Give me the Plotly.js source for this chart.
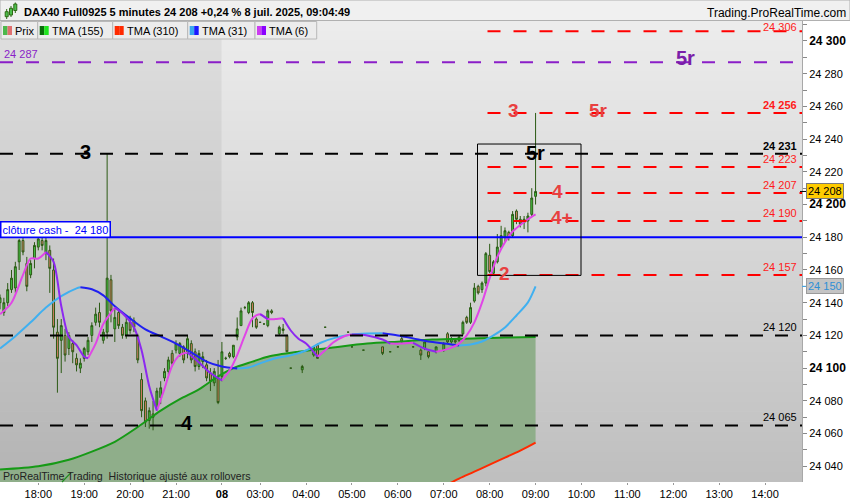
<!DOCTYPE html>
<html><head><meta charset="utf-8">
<script src="https://cdn.plot.ly/plotly-3.0.1.min.js"></script>
<style>html,body{margin:0;padding:0;background:#fff;}#chart{width:850px;height:500px;}</style>
</head><body><div id="chart"></div>
<script>
// ---------------- DATA ----------------
const barIdx = [-10,-9,-8,-7,-6,-5,-4,-3,-2,-1,0,1,2,3,4,5,6,7,8,9,10,11,12,13,14,15,16,17,18,19,20,21,22,23,24,25,26,27,28,29,30,31,32,33,34,35,36,37,38,39,40,41,42,43,44,45,46,47,48,49,50,51,52,53,54,55,56,57,58,59,60,61,63,64,65,66,69,72,73,75,81,82,85,90,92,94,95,98,100,101,102,104,106,107,108,109,110,111,112,113,114,115,116,117,118,119,120,121,122,123,124,125,126,127,128,129,130];
const openP = [24140,24134,24140,24148,24149,24165,24178,24164,24157,24167,24174,24178,24170,24172,24160,24122,24117,24120,24112,24115,24106,24100,24106,24110,24120,24128,24134,24117,24122,24154,24124,24134,24125,24120,24128,24129,24120,24093,24080,24068,24072,24076,24082,24094,24098,24109,24111,24109,24113,24109,24115,24110,24101,24104,24102,24097,24091,24094,24095,24106,24109,24107,24119,24126,24137,24134,24140,24130,24128,24127,24126,24135,24121,24123,24120,24100,24099,24108,24114,24125,24122,24113,24111,24113,24110,24113,24118,24113,24111,24112,24110,24110,24111,24121,24116,24117,24117,24121,24131,24128,24141,24150,24148,24152,24169,24158,24165,24174,24180,24183,24181,24196,24191,24189,24190,24194,24205];
const highP = [24145,24143,24152,24160,24165,24179,24180,24168,24166,24177,24180,24180,24180,24175,24167,24130,24130,24124,24122,24117,24109,24106,24113,24119,24128,24137,24140,24124,24231,24157,24137,24136,24127,24131,24132,24131,24121,24097,24082,24076,24080,24088,24092,24100,24107,24111,24117,24116,24114,24120,24117,24112,24111,24110,24105,24100,24100,24105,24116,24107,24110,24114,24131,24137,24138,24141,24141,24131,24128,24127,24136,24136,24126,24127,24120,24100,24102,24113,24115,24125,24122,24113,24111,24113,24110,24113,24119,24113,24112,24116,24110,24113,24116,24122,24119,24118,24120,24129,24132,24140,24152,24151,24153,24171,24176,24166,24182,24187,24186,24184,24196,24197,24193,24193,24195,24210,24256];
const lowP = [24136,24132,24138,24146,24146,24160,24169,24147,24155,24161,24172,24172,24166,24146,24118,24085,24097,24104,24108,24103,24098,24097,24104,24108,24116,24126,24125,24115,24118,24128,24116,24124,24118,24118,24121,24122,24103,24070,24064,24063,24062,24074,24078,24092,24096,24101,24109,24107,24103,24106,24103,24098,24099,24100,24092,24086,24089,24078,24092,24105,24106,24106,24117,24126,24136,24133,24125,24124,24128,24127,24125,24133,24120,24121,24110,24100,24097,24107,24106,24125,24122,24113,24111,24108,24110,24113,24115,24113,24105,24111,24106,24109,24110,24115,24115,24115,24116,24120,24127,24127,24140,24145,24146,24150,24158,24157,24164,24173,24177,24178,24180,24188,24186,24185,24183,24193,24200];
const closeP = [24143,24140,24148,24155,24162,24178,24171,24150,24164,24175,24179,24175,24178,24161,24125,24106,24126,24108,24120,24110,24102,24103,24112,24117,24126,24133,24128,24122,24155,24135,24131,24126,24120,24128,24123,24125,24105,24074,24067,24074,24070,24086,24088,24098,24105,24103,24115,24115,24105,24118,24105,24101,24109,24107,24094,24092,24098,24079,24110,24106,24107,24114,24124,24135,24137,24140,24134,24125,24128,24127,24135,24134,24125,24124,24110,24100,24101,24113,24106,24125,24122,24113,24111,24109,24110,24113,24116,24113,24108,24116,24107,24113,24115,24116,24118,24116,24119,24128,24128,24137,24149,24146,24152,24170,24159,24165,24174,24181,24184,24180,24194,24191,24188,24191,24193,24204,24208];

const tma6X = [-10,-7,-4,-2,0,2,4,6,8,10,12,13,15,17,20,22,25,27,29,31,33,35,37,39,42,45,48,50,52,54,56,58,60,62,64,66,68,70,73,75,77,80,82,86,90,92,95,98,101,104,106,108,110,112,114,116,118,120,122,124,126,128,130];
const tma6Y = [24133,24140,24157,24167,24167,24171,24165,24138,24119,24114,24107,24106,24115,24127,24137,24133.5,24125,24111,24089,24074,24087.5,24101.5,24108,24109.5,24103.5,24097,24092.5,24098.5,24108,24120,24130.5,24133,24130,24130,24130.5,24123,24118,24115,24107,24111,24115.5,24119.5,24120.5,24120,24117.5,24115,24115,24115.5,24112,24110,24111,24112.5,24115,24120,24128,24140,24155,24168,24177,24183.5,24187.5,24191,24194];
const tma31X = [-10,-6,-2,2,6,10,11,14,17,20,24,28,32,36,40,44,48,52,55,58,62,66,70,74,78,82,86,90,94,98,102,106,108,110,113,116,119,122,125,128,130];
const tma31Y = [24112,24119.5,24128,24137,24144,24148.8,24149.4,24148.2,24144.5,24137.8,24130.4,24123.7,24119.4,24115,24109.6,24104,24101,24099.8,24100.4,24102.9,24106,24107.8,24110.8,24115.7,24118.8,24120.6,24121.2,24121.3,24120,24118.2,24116.3,24115.1,24114.5,24113.9,24114.5,24116.3,24120,24124.9,24132.2,24140.2,24150];
const tma155X = [-10,0,8,14,20,26,32,37,42,47,51,56,60,68,77,86,95,103,115,122,130];
const tma155Y = [24038,24040,24044,24049,24055,24064,24074,24081,24087,24095,24100,24104,24107,24110,24112.6,24115,24116.3,24117.5,24118.2,24118.7,24119];
const tma310X = [-10,20,50,80,100,107,110,114,118,122,126,130];
const tma310Y = [23985,23990,23998,24010,24022,24029,24032.5,24036.7,24041,24045.3,24049.6,24054.5];

const timeTickIdx = [0,12,24,36,48,58,70,82,94,106,118,130,142,154,166,178,190];
const timeTickText = ['18:00','19:00','20:00','21:00','08','03:00','04:00','05:00','06:00','07:00','08:00','09:00','10:00','11:00','12:00','13:00','14:00'];
const priceTicks = [24040,24060,24080,24100,24120,24140,24160,24180,24200,24220,24240,24260,24280,24300];
const boldTicks = [24100,24200,24300];

const blackLevels = [24231,24120,24065];
const redLevels = [24306,24256,24223,24207,24190,24157];
const boldLevels = [24256,24231];
const purpleLevel = 24287;
const cashClose = 24180;
const lastPrice = 24208;
const tma31Last = 24150;
const seriesNames = ['Prix','TMA (155)','TMA (310)','TMA (31)','TMA (6)'];
const headerText = 'DAX40 Full0925 5 minutes 24 208 +0,24 % 8 juil. 2025, 09:04:49';

// ---------------- LAYOUT HELPERS ----------------
const F = 'Liberation Sans, Arial, sans-serif';
const XR = [-10.01, 199.65];
const YR = [24030.4, 24312.2];
const PW = 802, PH = 461, PT = 21, PB = 482;
const pX = px => px / PW;
const pY = py => (PB - py) / PH;
const dX = px => XR[0] + px / PW * (XR[1] - XR[0]);
const fmt = v => String(v).replace(/\B(?=(\d{3})+(?!\d))/g, ' ');

function splitDir(ys) {
  const up = ys.map(() => null), dn = ys.map(() => null);
  for (let k = 0; k < ys.length - 1; k++) {
    const t = ys[k + 1] >= ys[k] ? up : dn;
    t[k] = ys[k]; t[k + 1] = ys[k + 1];
  }
  return {up, dn};
}

const shapes = [];
const annotations = [];

// background gradient
const NB = 46;
for (let k = 0; k < NB; k++) {
  const g = Math.round(236 - (236 - 190) * (k + 0.5) / NB);
  shapes.push({type:'rect', xref:'paper', yref:'paper', x0:0, x1:1, y0:1 - (k + 1) / NB, y1:1 - k / NB + 0.001,
    fillcolor:`rgb(${g},${g},${g})`, line:{width:0}, layer:'below'});
}
// previous session darker
shapes.push({type:'rect', xref:'x', yref:'paper', x0:XR[0], x1:47.9, y0:0, y1:1, fillcolor:'rgba(0,0,0,0.055)', line:{width:0}, layer:'below'});

// level lines
blackLevels.forEach(v => shapes.push({type:'line', xref:'paper', yref:'y', x0:0, x1:1, y0:v, y1:v, line:{color:'#000', width:2, dash:'13px,12px'}, layer:'above'}));
redLevels.forEach(v => shapes.push({type:'line', xref:'x', yref:'y', x0:dX(487.5), x1:XR[1], y0:v, y1:v, line:{color:'#ff0000', width:2, dash:'13px,13px'}, layer:'above'}));
shapes.push({type:'line', xref:'paper', yref:'y', x0:0, x1:1, y0:purpleLevel, y1:purpleLevel, line:{color:'#8a1ec8', width:2, dash:'13px,13px'}, layer:'above'});
shapes.push({type:'line', xref:'paper', yref:'y', x0:0, x1:1, y0:cashClose, y1:cashClose, line:{color:'#0000ff', width:2}, layer:'above'});
// black box
shapes.push({type:'rect', xref:'x', yref:'y', x0:dX(477.5), x1:dX(581), y0:24156.7, y1:24237, line:{color:'#000', width:1}, fillcolor:'rgba(0,0,0,0)', layer:'above'});

// header bar
shapes.push({type:'rect', xref:'paper', yref:'paper', x0:0, x1:850 / PW, y0:pY(20.5), y1:pY(0), fillcolor:'#f0f0f0', line:{color:'#b0b0b0', width:1}, layer:'above'});
// header icon
[[6.7, 11.7, 16.7, 9, 19], [11, 8.3, 15, 6, 17], [15.3, 4, 10.5, 2.5, 13]].forEach(c => {
  shapes.push({type:'line', xref:'paper', yref:'paper', x0:pX(c[0]), x1:pX(c[0]), y0:pY(c[4]), y1:pY(c[3]), line:{color:'#2e6a14', width:1}, layer:'above'});
  shapes.push({type:'rect', xref:'paper', yref:'paper', x0:pX(c[0] - 1.5), x1:pX(c[0] + 1.5), y0:pY(c[2]), y1:pY(c[1]), fillcolor:'#4cc04c', line:{color:'#2e6a14', width:1}, layer:'above'});
});
annotations.push({text:'<b>' + headerText + '</b>', xref:'paper', yref:'paper', x:pX(22), y:pY(12.3), xanchor:'left', yanchor:'middle', showarrow:false, font:{family:F, size:11, color:'#000'}});
annotations.push({text:'Trading.ProRealTime.com', xref:'paper', yref:'paper', x:pX(847.5), y:pY(12.8), xanchor:'right', yanchor:'middle', showarrow:false, font:{family:F, size:12, color:'#000'}});

// legend boxes
const legBoxes = [[1,37.7],[37.7,112.7],[112.7,187.7],[187.7,255],[255,316.7]];
const legIcons = [['#4cb84c','#e07070'],['#0a6e0a','#1ee61e'],['#ff2a00','#ff2a00'],['#3aa8ee','#1a1aff'],['#cc3cf0','#8a00ff']];
legBoxes.forEach((b, k) => {
  shapes.push({type:'rect', xref:'paper', yref:'paper', x0:pX(b[0]), x1:pX(b[1]), y0:pY(39), y1:pY(21.5), fillcolor:'#ececec', line:{color:'#b8b8b8', width:1}, layer:'above'});
  const ix = b[0] + 2;
  shapes.push({type:'rect', xref:'paper', yref:'paper', x0:pX(ix), x1:pX(ix + 4.5), y0:pY(35), y1:pY(26), fillcolor:legIcons[k][0], line:{width:0}, layer:'above'});
  shapes.push({type:'rect', xref:'paper', yref:'paper', x0:pX(ix + 4.5), x1:pX(ix + 9), y0:pY(35), y1:pY(26), fillcolor:legIcons[k][1], line:{width:0}, layer:'above'});
  annotations.push({text:seriesNames[k], xref:'paper', yref:'paper', x:pX(ix + 10), y:pY(30.8), xanchor:'left', yanchor:'middle', showarrow:false, font:{family:F, size:11, color:'#000'}});
});

// right-side level labels inside plot
blackLevels.concat(redLevels).forEach(v => {
  const isRed = redLevels.includes(v);
  const b = boldLevels.includes(v);
  annotations.push({text:b ? '<b>' + fmt(v) + '</b>' : fmt(v), xref:'paper', yref:'y', x:pX(799), y:v, yshift:(v === 24306 ? 4 : 8), xanchor:'right', yanchor:'middle', showarrow:false,
    font:{family:F, size:11, color:isRed ? '#ff1a1a' : '#000'}});
});
annotations.push({text:fmt(purpleLevel), xref:'paper', yref:'y', x:pX(1.5), y:purpleLevel, yshift:8, xanchor:'left', yanchor:'middle', showarrow:false, font:{family:F, size:11, color:'#8a1ec8'}});
annotations.push({text:'clôture cash -\u00a0 ' + fmt(cashClose), xref:'paper', yref:'y', x:pX(0), y:cashClose, yshift:8, xanchor:'left', yanchor:'middle', showarrow:false,
  font:{family:F, size:11, color:'#0000ff'}, bgcolor:'#ffffff', bordercolor:'#0000ff', borderwidth:1.5, borderpad:1});

// big pattern labels
const bigLab = (t, px, py, col, size) => annotations.push({text:'<b>' + t + '</b>', xref:'paper', yref:'paper', x:pX(px), y:pY(py), xanchor:'center', yanchor:'middle', showarrow:false, font:{family:F, size:size, color:col}});
bigLab('3', 85, 152, '#000', 20);
bigLab('4', 187, 423, '#000', 20);
bigLab('5r', 535, 153, '#000', 20);
bigLab('5r', 685, 58, '#7a1ea8', 20);
bigLab('3', 513, 111, '#e84040', 19);
bigLab('5r', 598, 111, '#e84040', 19);
bigLab('4', 557, 192, '#e84040', 19);
bigLab('4+', 562, 218, '#e84040', 19);
bigLab('2', 504, 273, '#e84040', 19);

// bottom watermark
annotations.push({text:'ProRealTime Trading\u00a0 Historique ajusté aux rollovers', xref:'paper', yref:'paper', x:pX(0.5), y:pY(476), xanchor:'left', yanchor:'middle', showarrow:false, font:{family:F, size:10.6, color:'#222'}});
shapes.push({type:'line', xref:'paper', yref:'paper', x0:pX(62), x1:pX(71), y0:pY(482), y1:pY(472.7), line:{color:'#1e8c1e', width:1.2}, layer:'above'});

// price boxes on right axis
annotations.push({text:fmt(lastPrice), xref:'paper', yref:'y', x:pX(806), y:lastPrice, xanchor:'left', yanchor:'middle', showarrow:false,
  font:{family:F, size:11, color:'#000'}, bgcolor:'#ffcc00', bordercolor:'#7a7a7a', borderwidth:1, borderpad:1});
shapes.push({type:'line', xref:'paper', yref:'y', x0:pX(800), x1:pX(806), y0:lastPrice, y1:lastPrice, line:{color:'#000', width:1}, layer:'above'});
annotations.push({text:fmt(tma31Last), xref:'paper', yref:'y', x:pX(806), y:tma31Last, xanchor:'left', yanchor:'middle', showarrow:false,
  font:{family:F, size:11, color:'#2e8fd6'}, bgcolor:'#c4c4c4', bordercolor:'#9a9a9a', borderwidth:1, borderpad:1});
shapes.push({type:'line', xref:'paper', yref:'y', x0:pX(802), x1:pX(806), y0:tma31Last, y1:tma31Last, line:{color:'#3aa8ee', width:1}, layer:'above'});

// ---------------- TRACES ----------------
const traces = [];
// fill between TMA310 and TMA155 (base subplot, below candles)
traces.push({type:'scatter', mode:'lines', x:tma310X, y:tma310Y, xaxis:'x', yaxis:'y', line:{width:0, shape:'spline'}, hoverinfo:'skip'});
traces.push({type:'scatter', mode:'lines', x:tma155X, y:tma155Y, xaxis:'x', yaxis:'y', line:{width:0, shape:'spline'}, fill:'tonexty', fillcolor:'rgb(143,174,138)', hoverinfo:'skip'});
// candles
traces.push({type:'candlestick', x:barIdx, open:openP, high:highP, low:lowP, close:closeP, xaxis:'x', yaxis:'y2',
  increasing:{line:{color:'#2b5a14', width:1}, fillcolor:'#46c846'},
  decreasing:{line:{color:'#2b5a14', width:1}, fillcolor:'#e0806a'},
  whiskerwidth:0, hoverinfo:'skip'});
// MA lines
const addDir = (xs, ys, cu, cd) => {
  const s = splitDir(ys);
  traces.push({type:'scatter', mode:'lines', x:xs, y:s.up, xaxis:'x', yaxis:'y2', line:{color:cu, width:2, shape:'spline', smoothing:0.8}, connectgaps:false, hoverinfo:'skip'});
  traces.push({type:'scatter', mode:'lines', x:xs, y:s.dn, xaxis:'x', yaxis:'y2', line:{color:cd, width:2, shape:'spline', smoothing:0.8}, connectgaps:false, hoverinfo:'skip'});
};
traces.push({type:'scatter', mode:'lines', x:tma310X, y:tma310Y, xaxis:'x', yaxis:'y2', line:{color:'#ff2a00', width:2, shape:'spline'}, hoverinfo:'skip'});
addDir(tma155X, tma155Y, '#169a16', '#22dd22');
addDir(tma31X, tma31Y, '#40b0f0', '#2020f0');
addDir(tma6X, tma6Y, '#e046e6', '#8c28f0');

const layout = {
  width:850, height:500,
  margin:{l:0, r:48, t:21, b:18, pad:0},
  paper_bgcolor:'#ffffff', plot_bgcolor:'#d4d4d4',
  showlegend:false, hovermode:false, dragmode:false,
  font:{family:F, size:11, color:'#000'},
  xaxis:{range:XR, tickmode:'array', tickvals:timeTickIdx,
    ticktext:timeTickText.map(t => t === '08' ? '<b>08</b>' : t),
    ticks:'outside', ticklen:2, tickcolor:'#999', showgrid:false, zeroline:false, showline:false,
    tickfont:{family:F, size:11, color:'#000'}, rangeslider:{visible:false}, fixedrange:true},
  yaxis:{range:YR, side:'right', tickmode:'array', tickvals:priceTicks,
    ticktext:priceTicks.map(v => boldTicks.includes(v) ? '<b><span style="font-size:12px">' + fmt(v) + '</span></b>' : fmt(v)),
    ticks:'outside', ticklen:4, tickcolor:'#888',
    minor:{ticks:'outside', ticklen:4, tickcolor:'#888', tickmode:'linear', tick0:24030, dtick:10},
    showgrid:false, zeroline:false, showline:true, linecolor:'#a8a8a8', linewidth:1,
    tickfont:{family:F, size:11, color:'#000'}, fixedrange:true},
  yaxis2:{range:YR, overlaying:'y', side:'right', visible:false, showgrid:false, zeroline:false, fixedrange:true},
  shapes:shapes, annotations:annotations
};

Plotly.newPlot('chart', traces, layout, {staticPlot:true, displayModeBar:false});
</script>
</body></html>
